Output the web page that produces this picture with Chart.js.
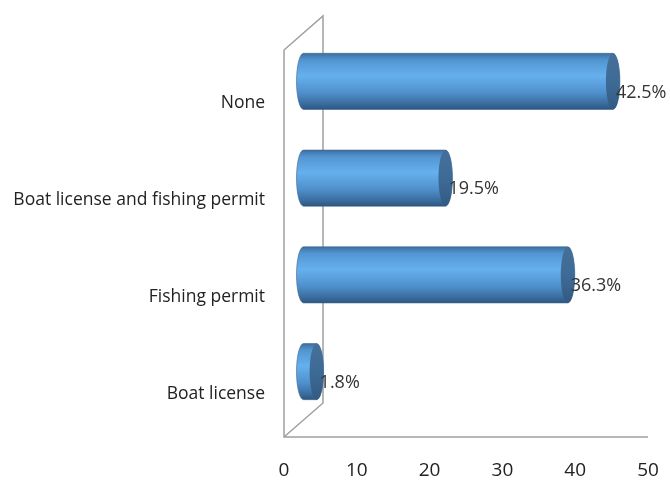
<!DOCTYPE html>
<html>
<head>
<meta charset="utf-8">
<script src="https://cdn.jsdelivr.net/npm/chart.js@4.4.1/dist/chart.umd.min.js"></script>
<style>
    html, body { margin: 0; padding: 0; background: #fff; }
    #wrap { width: 670px; height: 481px; }
</style>
</head>
<body>
<div id="wrap"><canvas id="chart"></canvas></div>
<script>
const categories = ['None', 'Boat license and fishing permit', 'Fishing permit', 'Boat license'];
const percentages = [42.5, 19.5, 36.3, 1.8];
const xTicks = [0, 10, 20, 30, 40, 50];

const FONT = "'Open Sans', 'Noto Sans', sans-serif";
const DEPTH_X = 39;
const DEPTH_Y = 34;

// 3D wall frame (Excel style): front edge, back edge and the two connecting diagonals
const framePlugin = {
    id: 'frame3d',
    beforeDatasetsDraw(chart) {
        const { ctx, chartArea } = chart;
        const x0 = chart.scales.x.getPixelForValue(0);
        const x50 = chart.scales.x.getPixelForValue(50);
        ctx.save();
        ctx.strokeStyle = '#a0a0a0';
        ctx.lineWidth = 1.5;
        ctx.beginPath();
        ctx.moveTo(x0, chartArea.top);
        ctx.lineTo(x0, chartArea.bottom);
        ctx.lineTo(x50, chartArea.bottom);
        ctx.moveTo(x0, chartArea.top);
        ctx.lineTo(x0 + DEPTH_X, chartArea.top - DEPTH_Y);
        ctx.lineTo(x0 + DEPTH_X, chartArea.bottom - DEPTH_Y);
        ctx.lineTo(x0, chartArea.bottom);
        ctx.stroke();
        ctx.restore();
    }
};

// cylinders drawn on the middle depth plane from the bar elements
const cylinderPlugin = {
    id: 'cylinders',
    afterDatasetsDraw(chart) {
        const { ctx } = chart;
        const meta = chart.getDatasetMeta(0);
        const dx = DEPTH_X / 2, dy = DEPTH_Y / 2;
        meta.data.forEach((bar, i) => {
            const x0 = bar.base + dx;
            const x1 = bar.x + dx;
            const yc = bar.y - dy;
            const ry = bar.height / 2;
            const rx = 7;
            const top = yc - ry, bottom = yc + ry;

            const grad = ctx.createLinearGradient(0, top, 0, bottom);
            grad.addColorStop(0, '#3f6f9f');
            grad.addColorStop(0.12, '#5196d2');
            grad.addColorStop(0.4, '#66b0ee');
            grad.addColorStop(0.7, '#4f90cc');
            grad.addColorStop(0.9, '#3a6c9e');
            grad.addColorStop(1, '#2d5680');

            ctx.save();
            ctx.beginPath();
            ctx.moveTo(x0, top);
            ctx.lineTo(x1, top);
            ctx.ellipse(x1, yc, rx, ry, 0, -Math.PI / 2, Math.PI / 2);
            ctx.lineTo(x0, bottom);
            ctx.ellipse(x0, yc, rx, ry, 0, Math.PI / 2, Math.PI * 1.5);
            ctx.closePath();
            ctx.fillStyle = grad;
            ctx.fill();
            ctx.strokeStyle = 'rgba(60,100,140,0.6)';
            ctx.lineWidth = 1;
            ctx.stroke();

            const capGrad = ctx.createLinearGradient(0, top, 0, bottom);
            capGrad.addColorStop(0, '#446f98');
            capGrad.addColorStop(0.5, '#3e6b96');
            capGrad.addColorStop(1, '#325a82');
            ctx.beginPath();
            ctx.ellipse(x1, yc, rx, ry, 0, 0, Math.PI * 2);
            ctx.fillStyle = capGrad;
            ctx.fill();

            ctx.fillStyle = '#333';
            ctx.font = '18px ' + FONT;
            ctx.textAlign = 'left';
            ctx.textBaseline = 'middle';
            ctx.fillText(percentages[i].toFixed(1) + '%', x1 + 3, yc + 11);
            ctx.restore();
        });
    }
};

new Chart(document.getElementById('chart'), {
    type: 'bar',
    data: {
        labels: categories,
        datasets: [{
            data: percentages,
            backgroundColor: 'rgba(0,0,0,0)',
            borderWidth: 0,
            categoryPercentage: 1,
            barPercentage: 0.58
        }]
    },
    options: {
        indexAxis: 'y',
        responsive: true,
        maintainAspectRatio: false,
        animation: false,
        layout: { padding: { top: 50, right: 22, left: 0, bottom: 0 } },
        plugins: {
            legend: { display: false },
            tooltip: { enabled: false }
        },
        scales: {
            x: {
                min: 0,
                max: 50,
                afterBuildTicks: scale => { scale.ticks = xTicks.map(v => ({ value: v })); },
                grid: { display: false },
                border: { display: false },
                ticks: { color: '#222', font: { family: FONT, size: 19 }, padding: 14 },
                afterFit: scale => {
                    scale.height = 44;
                    scale.paddingLeft = 0;
                    scale.paddingRight = 0;
                }
            },
            y: {
                grid: { display: false },
                border: { display: false },
                ticks: { color: '#222', font: { family: FONT, size: 17.5 }, padding: 11, labelOffset: 5 },
                afterFit: scale => { scale.width = 284; }
            }
        }
    },
    plugins: [framePlugin, cylinderPlugin]
});
</script>
</body>
</html>
